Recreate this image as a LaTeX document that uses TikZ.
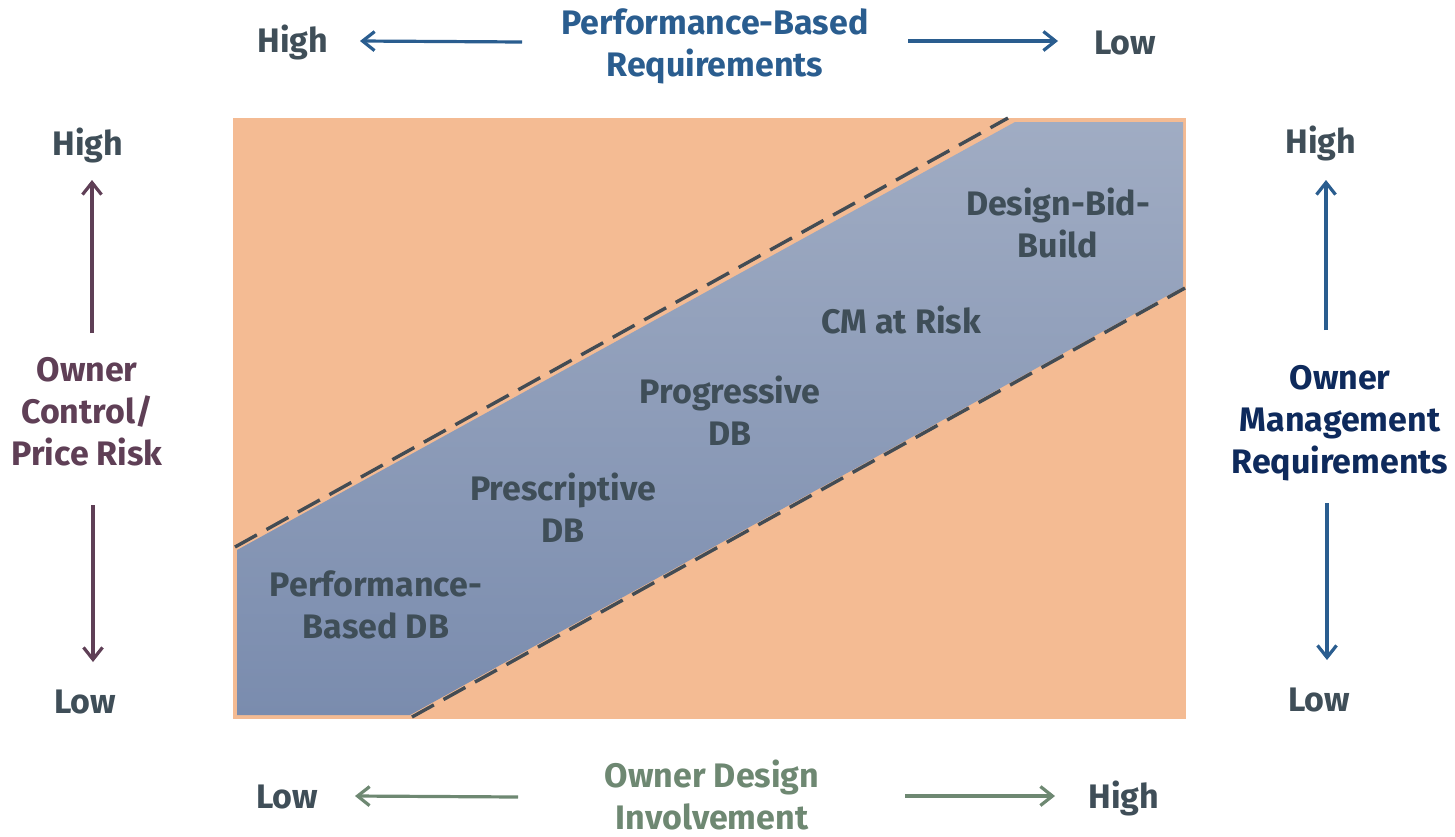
\documentclass[tikz,border=0pt]{standalone}
\usepackage{fontspec}
\setmainfont{Fira Sans}
\usetikzlibrary{arrows.meta}
\definecolor{orangebg}{HTML}{F4BB93}
\definecolor{bandtop}{HTML}{A0ACC3}
\definecolor{bandbot}{HTML}{7A8CAE}
\definecolor{dashc}{HTML}{434C54}
\definecolor{txtgray}{HTML}{3F4E58}
\definecolor{perfblue}{HTML}{2A5D8F}
\definecolor{navyc}{HTML}{0E2A5C}
\definecolor{plum}{HTML}{5F3F56}
\definecolor{sage}{HTML}{6E8872}
\tikzset{
  lbl/.style={inner sep=0pt, align=center, font=\bfseries\fontsize{34}{42}\selectfont},
  widelbl/.style={inner sep=0pt, align=center, font=\bfseries\fontsize{34}{42}\selectfont},
  inband/.style={lbl, text=txtgray},
  endlbl/.style={lbl, text=txtgray},
  arr/.style={line width=3.2pt, -{Straight Barb[length=12pt,width=19pt]}},
  dashln/.style={dashc, line width=3.4pt, dash pattern=on 25pt off 11pt}
}
\begin{document}
\begin{tikzpicture}[x=1pt,y=-1pt]
\useasboundingbox (0,0) rectangle (1455,836);
\fill[white] (0,0) rectangle (1455,836);
% background field
\fill[orangebg] (233,118) rectangle (1186,719);
% band
\shade[top color=bandtop,bottom color=bandbot]
  (237,550) -- (1015,122) -- (1183,122) -- (1183,287) -- (410,715) -- (237,715) -- cycle;
\draw[dashln] (235,547) -- (1008,118);
\draw[dashln] (412,717) -- (1185,288);
% band labels
\node[inband] (dbb) at (1058,223) {Design-Bid-\\Build};
\node[inband] (cmr) at (901,320) {CM at Risk};
\node[inband] (prog) at (730,411) {Progressive\\DB};
\node[inband] (presc) at (563,508) {Prescriptive\\DB};
\node[inband] (perf) at (376,605) {Performance-\\Based DB};
% top axis
\node[lbl, text=perfblue] (topt) at (715,46) {Performance-Based\\Requirements};
\node[endlbl] (tophigh) at (293,42) {High};
\node[endlbl] (toplow) at (1125,43) {Low};
\coordinate (ta1) at (522,42); \coordinate (ta2) at (360,41);
\coordinate (tb1) at (908,41); \coordinate (tb2) at (1058,41);
\draw[arr, perfblue] (ta1) -- (ta2);
\draw[arr, perfblue] (tb1) -- (tb2);
% bottom axis
\node[lbl, text=sage] (bott) at (712,795) {Owner Design\\Involvement};
\node[endlbl] (botlow) at (287,797) {Low};
\node[endlbl] (bothigh) at (1124,798) {High};
\coordinate (ba1) at (518,797); \coordinate (ba2) at (355,796);
\coordinate (bb1) at (905,796); \coordinate (bb2) at (1055,796);
\draw[arr, sage] (ba1) -- (ba2);
\draw[arr, sage] (bb1) -- (bb2);
% left axis
\node[widelbl, text=plum] (leftt) at (87,412) {Owner\\Control/\\Price Risk};
\node[endlbl] (lefthigh) at (88,145) {High};
\node[endlbl] (leftlow) at (85,702) {Low};
\coordinate (la1) at (92,333); \coordinate (la2) at (92,180);
\coordinate (lb1) at (93,505); \coordinate (lb2) at (93,662);
\draw[arr, plum] (la1) -- (la2);
\draw[arr, plum] (lb1) -- (lb2);
% right axis
\node[widelbl, text=navyc] (rightt) at (1340,423) {Owner\\Management\\Requirements};
\node[endlbl] (righthigh) at (1321,143) {High};
\node[endlbl] (rightlow) at (1319,700) {Low};
\coordinate (ra1) at (1326,330); \coordinate (ra2) at (1326,180);
\coordinate (rb1) at (1327,503); \coordinate (rb2) at (1327,660);
\draw[arr, perfblue] (ra1) -- (ra2);
\draw[arr, perfblue] (rb1) -- (rb2);
\end{tikzpicture}
\end{document}
